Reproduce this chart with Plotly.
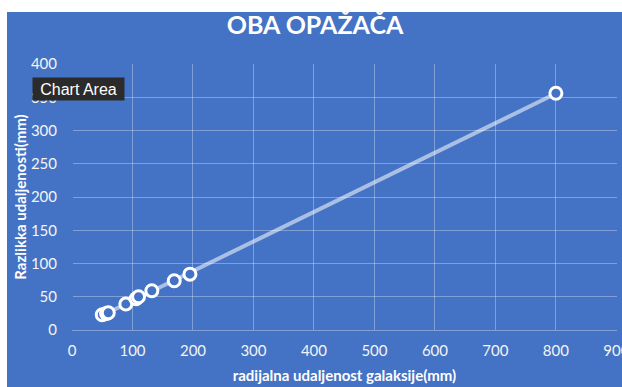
import numpy as np
import plotly.graph_objects as go

# Radial galaxy distance (mm) vs. measured distance difference (mm), both observers
radial_mm = [50, 57, 60, 89, 106, 110, 132, 169, 195, 800]
difference_mm = [23, 25, 26, 39, 47, 50, 59, 74, 84, 356]

x_ticks = [0, 100, 200, 300, 400, 500, 600, 700, 800, 900]
y_ticks = [0, 50, 100, 150, 200, 250, 300, 350, 400]

BLUE = "#4472C4"
GRID = "rgba(255,255,255,0.32)"
TEXT = "#F4F4F4"
FONT = "Lato"

# linear trend through the measurements
slope, intercept = np.polyfit(radial_mm, difference_mm, 1)
trend_x = [min(radial_mm), max(radial_mm)]
trend_y = [slope * v + intercept for v in trend_x]

fig = go.Figure()
fig.add_trace(go.Scatter(
    x=trend_x, y=trend_y, mode="lines",
    line=dict(color="rgba(255,255,255,0.55)", width=4),
    hoverinfo="skip", showlegend=False,
))
fig.add_trace(go.Scatter(
    x=radial_mm, y=difference_mm, mode="markers",
    marker=dict(size=12, color=BLUE, line=dict(color="white", width=3)),
    showlegend=False,
))

L, R, T, B = 72, 5, 64, 57
W, H = 622, 387
pw, ph = W - L - R, H - T - B

def px_x(p):
    return (p - L) / pw

def px_y(p):
    return (H - B - p) / ph

fig.update_layout(
    width=W, height=H,
    margin=dict(l=L, r=R, t=T, b=B, autoexpand=False),
    paper_bgcolor="white",
    plot_bgcolor="rgba(0,0,0,0)",
    font=dict(family=FONT, color=TEXT, size=15),
    title=dict(
        text="<b>OBA OPAŽAČA</b>",
        font=dict(family=FONT, size=25, color="white"),
        x=315 / W, xref="container", xanchor="center",
        y=1 - 25 / H, yref="container", yanchor="middle",
    ),
    shapes=[dict(
        type="rect", xref="paper", yref="paper", layer="below",
        x0=px_x(7), x1=px_x(W + 2), y0=px_y(H + 2), y1=px_y(12),
        fillcolor=BLUE, line=dict(width=0),
    )],
    annotations=[dict(
        text="Chart Area", xref="paper", yref="paper",
        x=px_x(32), y=px_y(77), xanchor="left", yanchor="top",
        showarrow=False, bgcolor="#2B2B2B", borderpad=3,
        width=85, height=16,
        font=dict(family="Liberation Sans", size=16, color="white"),
    )],
    xaxis=dict(
        range=[0, 901], tickvals=x_ticks, showgrid=True, gridcolor=GRID,
        gridwidth=1, zeroline=True, zerolinecolor=BLUE, zerolinewidth=1,
        showline=False, ticks="", ticklabelstandoff=10,
        ticklabeloverflow="allow", automargin=False,
        tickfont=dict(family=FONT, size=15, color=TEXT),
        title=dict(text="<b>radijalna udaljenost galaksije(mm)</b>",
                   font=dict(family=FONT, size=15, color="white"), standoff=12),
    ),
    yaxis=dict(
        range=[0, 400], tickvals=y_ticks, showgrid=True, gridcolor=GRID,
        gridwidth=1, zeroline=True, zerolinecolor=GRID, zerolinewidth=1,
        showline=False, ticks="", ticklabelstandoff=14, automargin=False,
        tickfont=dict(family=FONT, size=15, color=TEXT),
        title=dict(text="<b>Razlikka udaljenosti(mm)</b>",
                   font=dict(family=FONT, size=15, color="white"), standoff=0),
    ),
)

fig.write_html("out.html")
